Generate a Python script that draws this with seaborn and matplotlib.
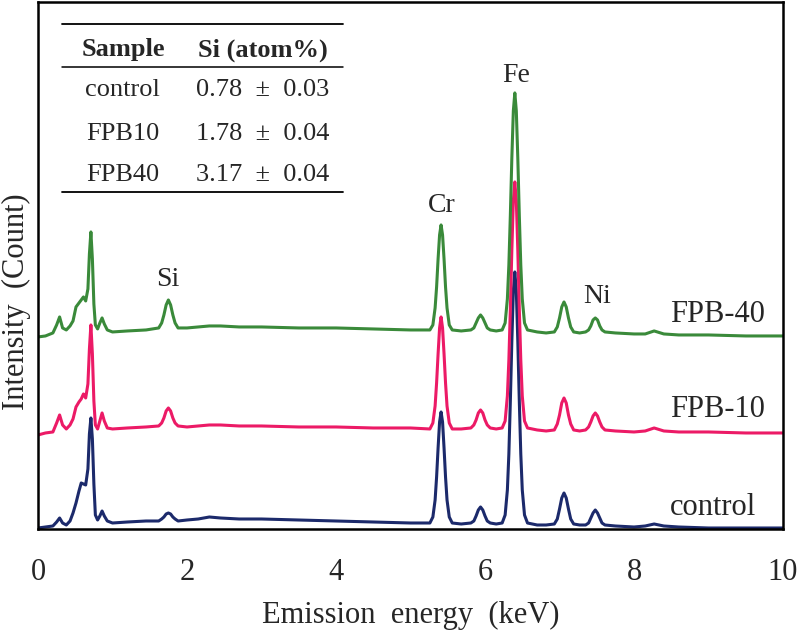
import numpy as np
import pandas as pd
import matplotlib
matplotlib.use("Agg")
import matplotlib.pyplot as plt
import seaborn as sns

# energy grid (keV), shared by the three spectra
energy = [
    # low-energy L lines
    0.00, 0.10, 0.20, 0.25, 0.29, 0.33, 0.38, 0.43, 0.47, 0.51,
    0.55, 0.58, 0.61, 0.64, 0.67, 0.69, 0.71, 0.73, 0.75, 0.77,
    0.80, 0.83, 0.86, 0.89, 0.93, 1.00, 1.20, 1.45,
    # Si
    1.62, 1.66, 1.69, 1.72, 1.75, 1.78, 1.81, 1.84, 1.88,
    2.00, 2.15, 2.30, 2.45, 2.70, 3.00, 3.50, 4.00, 4.50, 5.00,
    # Cr K-alpha
    5.26, 5.30, 5.33, 5.35, 5.37, 5.39, 5.41, 5.43, 5.45, 5.47, 5.49, 5.52, 5.56,
    5.68,
    # Cr K-beta
    5.81, 5.85, 5.88, 5.91, 5.94, 5.97, 6.00, 6.03, 6.07,
    6.15,
    # Fe K-alpha
    6.23, 6.27, 6.30, 6.32, 6.34, 6.36, 6.38, 6.40, 6.42, 6.44, 6.46, 6.48,
    6.50, 6.53, 6.57,
    6.70, 6.82,
    # Fe K-beta
    6.93, 6.97, 7.00, 7.03, 7.06, 7.09, 7.12, 7.15, 7.19,
    7.27,
    # Ni K-alpha
    7.35, 7.39, 7.42, 7.45, 7.48, 7.51, 7.54, 7.57, 7.61,
    7.75, 8.00, 8.15, 8.27, 8.40, 8.60, 9.00, 9.50, 10.00,
]

# intensities (arbitrary counts, traces already offset as in the figure)
control = [
    1, 2, 3, 7, 11, 6, 4, 8, 16, 26,
    38, 46, 45, 44, 60, 95, 111, 90, 45, 14,
    9, 13, 18, 13, 8, 6, 7, 8,
    8, 10, 12, 15, 16, 15, 12, 10, 8,
    9, 10, 12, 11, 10, 10, 9, 8, 7, 6,
    6, 12, 29, 52, 81, 107, 117, 107, 81, 52, 29, 12, 6,
    5,
    6, 8, 13, 19, 22, 19, 13, 8, 6,
    5,
    6, 14, 39, 75, 128, 188, 238, 257, 238, 188, 128, 75,
    39, 14, 6,
    4, 4,
    5, 10, 20, 31, 36, 31, 20, 10, 5,
    4,
    4, 6, 11, 16, 19, 16, 11, 6, 4,
    3, 2, 3, 5, 3, 2, 1, 1, 1,
]
fpb10 = [
    94, 96, 97, 106, 114, 104, 100, 104, 110, 122,
    127, 130, 135, 131, 145, 180, 204, 175, 128, 104,
    100, 108, 116, 108, 101, 100, 101, 102,
    103, 106, 111, 118, 121, 118, 111, 106, 103,
    102, 103, 104, 104, 103, 103, 102, 102, 101, 101,
    100, 106, 123, 146, 175, 201, 212, 201, 175, 146, 123, 106, 100,
    100,
    101, 104, 109, 116, 119, 116, 109, 104, 101,
    100,
    101, 108, 133, 169, 220, 279, 328, 347, 328, 279, 220, 169,
    133, 108, 101,
    99, 98,
    99, 105, 114, 126, 131, 126, 114, 105, 99,
    98,
    99, 102, 107, 113, 116, 113, 107, 102, 99,
    98, 97, 98, 101, 98, 97, 97, 96, 96,
]
fpb40 = [
    192, 193, 196, 204, 212, 201, 199, 203, 208, 222,
    226, 229, 232, 228, 240, 275, 297, 270, 225, 204,
    200, 206, 211, 205, 199, 197, 198, 199,
    201, 206, 214, 224, 229, 224, 214, 206, 201,
    201, 202, 203, 203, 202, 202, 201, 201, 200, 199,
    199, 204, 221, 242, 270, 294, 304, 294, 270, 242, 221, 204, 199,
    198,
    199, 201, 206, 211, 214, 211, 206, 201, 199,
    198,
    199, 206, 230, 264, 314, 371, 418, 436, 418, 371, 314, 264,
    230, 206, 199,
    197, 196,
    197, 202, 211, 222, 227, 222, 211, 202, 197,
    196,
    197, 199, 203, 209, 211, 209, 203, 199, 197,
    196, 195, 195, 198, 195, 194, 194, 193, 193,
]

samples = ["control", "FPB-10", "FPB-40"]
colors = ["#1c2a6b", "#ec1a66", "#3a8a3a"]

# peak labels: element, energy, baseline height
elements = ["Si", "Cr", "Fe", "Ni"]
elem_x = [1.745, 5.42, 6.42, 7.50]
elem_y = [243, 317, 447, 226]

# sample labels at the right (baseline heights)
label_y = [14, 112, 207]

# table
tab_head = ["Sample", "Si (atom%)"]
tab_names = ["control", "FPB10", "FPB40"]
tab_vals = ["0.78  \u00b1  0.03", "1.78  \u00b1  0.04", "3.17  \u00b1  0.04"]

df = pd.DataFrame({
    "energy": energy * 3,
    "intensity": control + fpb10 + fpb40,
    "sample": np.repeat(samples, len(energy)),
})

sns.set_style("white")
plt.rcParams["font.family"] = ["Liberation Serif", "DejaVu Serif"]

fig = plt.figure(figsize=(8, 6.33), dpi=100)
ax = fig.add_axes([0.0475, 0.1643, 0.9313, 0.8327])

sns.lineplot(data=df, x="energy", y="intensity", hue="sample", palette=colors,
             hue_order=samples, estimator=None, sort=False, legend=False,
             linewidth=2.2, ax=ax)

ax.set_xlim(0, 10)
ax.set_ylim(0, 527)
ax.set_xticks([0, 2, 4, 6, 8, 10])
ax.set_xticklabels(["0", "2", "4", "6", "8", "10"])
ax.set_yticks([])
ax.tick_params(axis="x", length=0, pad=21, labelsize=22)
ax.set_xlabel("Emission  energy  (keV)", fontsize=22)
ax.set_ylabel("Intensity  (Count)", fontsize=22)
ax.xaxis.set_label_coords(0.5, -0.136)
ax.yaxis.set_label_coords(-0.010, 0.431)
for s in ax.spines.values():
    s.set_linewidth(1.8)
    s.set_color("black")

for el, x, y in zip(elements, elem_x, elem_y):
    ax.text(x, y, el, ha="center", va="baseline", fontsize=20)
for name, y in zip(samples, label_y):
    ax.text(8.48, y, name, ha="left", va="baseline", fontsize=22)

# inset table
for y, lw in [(0.958, 1.3), (0.877, 1.1), (0.639, 1.3)]:
    ax.plot([0.032, 0.409], [y, y], color="black", lw=lw, transform=ax.transAxes)
ax.text(0.114, 0.909, tab_head[0], ha="center", va="center", fontsize=19,
        fontweight="bold", transform=ax.transAxes)
ax.text(0.302, 0.909, tab_head[1], ha="center", va="center", fontsize=19,
        fontweight="bold", transform=ax.transAxes)
for i, (n, v) in enumerate(zip(tab_names, tab_vals)):
    yy = [0.833, 0.749, 0.672][i]
    ax.text(0.114, yy, n, ha="center", va="center", fontsize=19, transform=ax.transAxes)
    ax.text(0.302, yy, v, ha="center", va="center", fontsize=19, transform=ax.transAxes)

fig.savefig("out.png", dpi=100)
